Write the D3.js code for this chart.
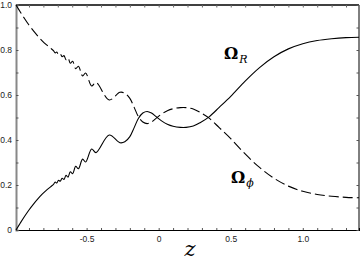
<!DOCTYPE html>
<html><head><meta charset="utf-8">
<script src="https://cdn.jsdelivr.net/npm/d3@7"></script>
<style>body{margin:0;background:#fff}svg{display:block}</style>
</head><body>
<svg id="c" width="360" height="262"></svg>
<script>
const zValues = [-0.99,-0.96,-0.93,-0.90,-0.87,-0.84,-0.81,-0.78,-0.75,-0.73,
  -0.718,-0.707,-0.695,-0.683,-0.670,-0.657,-0.643,-0.629,-0.613,-0.597,
  -0.576,-0.557,-0.528,-0.507,-0.465,-0.435,-0.343,-0.269,-0.235,-0.20,
  -0.17,-0.14,-0.11,-0.08,-0.05,-0.02,0.02,0.06,0.10,0.15,
  0.19,0.24,0.29,0.35,0.42,0.50,0.60,0.70,0.80,0.90,
  1.00,1.10,1.20,1.30,1.39];
const omegaR = [0.000,0.031,0.061,0.089,0.114,0.137,0.158,0.176,0.192,0.203,
  0.213,0.209,0.221,0.217,0.230,0.225,0.243,0.235,0.259,0.250,
  0.283,0.272,0.315,0.302,0.360,0.344,0.422,0.388,0.392,0.415,
  0.455,0.497,0.520,0.527,0.520,0.505,0.485,0.470,0.461,0.456,
  0.456,0.462,0.478,0.503,0.545,0.594,0.662,0.722,0.770,0.805,
  0.828,0.842,0.850,0.855,0.857];
const omegaPhi = [1.000,0.969,0.939,0.911,0.886,0.863,0.842,0.824,0.808,0.797,
  0.787,0.791,0.779,0.783,0.770,0.775,0.757,0.765,0.741,0.750,
  0.717,0.728,0.685,0.698,0.640,0.656,0.578,0.612,0.608,0.585,
  0.545,0.503,0.480,0.473,0.480,0.495,0.515,0.530,0.539,0.544,
  0.544,0.538,0.522,0.497,0.455,0.406,0.338,0.278,0.230,0.195,
  0.172,0.158,0.150,0.145,0.143];
const xTickLabels = ["-0.5","0","0.5","1.0"];
const xTickValues = [-0.5,0,0.5,1.0];
const yTickLabels = ["0","0.2","0.4","0.6","0.8","1.0"];
const yTickValues = [0,0.2,0.4,0.6,0.8,1.0];

const svg = d3.select("#c");
const L=16, R=359, T=5, B=230;
const x = d3.scaleLinear().domain([-0.99,1.39]).range([L,R]);
const y = d3.scaleLinear().domain([0,1]).range([B,T]);
const minorX = d3.range(-9,14).map(i=>i/10);
const minorY = d3.range(0,11).map(i=>i/10);

// frame
svg.append("line").attr("x1",L).attr("x2",R).attr("y1",T).attr("y2",T).attr("stroke","#000").attr("stroke-width",1.5);
svg.append("line").attr("x1",R).attr("x2",R).attr("y1",T).attr("y2",B).attr("stroke","#000").attr("stroke-width",1);

// bottom axis
const gx = svg.append("g").attr("transform",`translate(0,${B})`)
  .call(d3.axisBottom(x).tickValues(minorX).tickSize(-2).tickFormat(""));
gx.select(".domain").attr("stroke","#000").attr("stroke-width",1.2);
gx.selectAll(".tick line").attr("stroke","#555");
const gx2 = svg.append("g").attr("transform",`translate(0,${B})`)
  .call(d3.axisBottom(x).tickValues(xTickValues).tickSize(0).tickPadding(6).tickFormat((d,i)=>xTickLabels[i]));
gx2.select(".domain").remove();
gx2.selectAll("text").attr("font-family","Liberation Sans, Arial, sans-serif").attr("font-size","8.5px").attr("fill","#222");

// top ticks
const gt = svg.append("g").attr("transform",`translate(0,${T})`)
  .call(d3.axisTop(x).tickValues(minorX).tickSize(-2.5).tickFormat(""));
gt.select(".domain").remove();
gt.selectAll(".tick line").attr("stroke","#666");

// left axis
const gy = svg.append("g").attr("transform",`translate(${L},0)`)
  .call(d3.axisLeft(y).tickValues(minorY).tickSize(-2.5).tickFormat(""));
gy.select(".domain").attr("stroke","#888").attr("stroke-width",2);
gy.selectAll(".tick line").attr("stroke","#555");
const gy2 = svg.append("g").attr("transform",`translate(${L},0)`)
  .call(d3.axisLeft(y).tickValues(yTickValues).tickSize(0).tickPadding(4).tickFormat((d,i)=>yTickLabels[i]));
gy2.select(".domain").remove();
gy2.selectAll("text").attr("font-family","Liberation Sans, Arial, sans-serif").attr("font-size","8.5px").attr("fill","#222");

// right ticks
const gr = svg.append("g").attr("transform",`translate(${R},0)`)
  .call(d3.axisRight(y).tickValues(minorY).tickSize(-2.5).tickFormat(""));
gr.select(".domain").remove();
gr.selectAll(".tick line").attr("stroke","#555");

const line = (vals)=>d3.line().x((d,i)=>x(zValues[i])).y(d=>y(d)).curve(d3.curveCatmullRom.alpha(0.5))(vals);
svg.append("path").attr("d",line(omegaR)).attr("fill","none").attr("stroke","#000").attr("stroke-width",1.1);
svg.append("path").attr("d",line(omegaPhi)).attr("fill","none").attr("stroke","#000").attr("stroke-width",1.1).attr("stroke-dasharray","10,4");

// labels
const lab = (xx,yy,sub)=>{
  const t = svg.append("text").attr("x",xx).attr("y",yy).attr("font-family","DejaVu Serif, serif").attr("font-size","16px").attr("font-weight","bold").attr("fill","#000");
  t.append("tspan").text("Ω");
  t.append("tspan").attr("dx",1).attr("dy",4).attr("font-size","11px").attr("font-weight","normal").attr("font-style","italic").attr("font-family","DejaVu Serif, serif").text(sub);
};
lab(224,59,"R");
lab(231,183,"ϕ");

svg.append("text").attr("x",190).attr("y",256).attr("text-anchor","middle")
  .attr("font-family","DejaVu Serif, serif").attr("font-style","italic").attr("font-size","21px").text("z");
</script>
</body></html>
